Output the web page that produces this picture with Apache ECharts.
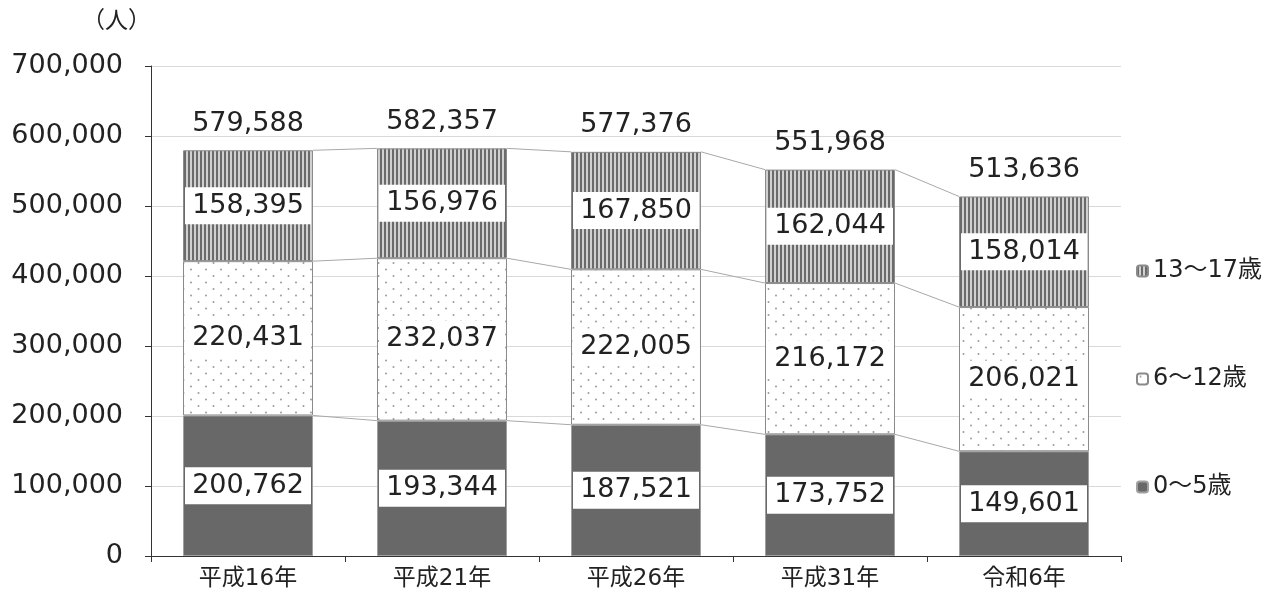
<!DOCTYPE html>
<html><head><meta charset="utf-8">
<script src="https://cdn.jsdelivr.net/npm/echarts@6/dist/echarts.min.js"></script>
<style>html,body{margin:0;padding:0;background:#fff}#c{width:1264px;height:597px}</style>
</head><body><div id="c"></div>
<script>
var categories = ['平成16年','平成21年','平成26年','平成31年','令和6年'];
var age0to5 = [200762,193344,187521,173752,149601];
var age6to12 = [220431,232037,222005,216172,206021];
var age13to17 = [158395,156976,167850,162044,158014];
var totals = [579588,582357,577376,551968,513636];
var seriesNames = ['0～5歳','6～12歳','13～17歳'];
var legendOrder = ['13～17歳','6～12歳','0～5歳'];
var unitLabel = '（人）';

function stripePattern(){
  var c=document.createElement('canvas');c.width=4;c.height=4;
  var g=c.getContext('2d');g.fillStyle='#d0d0d0';g.fillRect(0,0,4,4);
  g.fillStyle='#6a6a6a';g.fillRect(0,0,2,4);return c;
}
function dotPattern(){
  var c=document.createElement('canvas');c.width=15;c.height=13;
  var g=c.getContext('2d');g.fillStyle='#ffffff';g.fillRect(0,0,15,13);
  g.fillStyle='#9a9a9a';
  g.beginPath();g.arc(3.5,3,1,0,Math.PI*2);g.fill();
  g.beginPath();g.arc(11,9.5,1,0,Math.PI*2);g.fill();
  return c;
}
var FONT='"DejaVu Sans", "Noto Sans CJK JP", sans-serif';
var BW=0.67;
function fmt(v){return Number(v).toLocaleString('en-US');}
var chart=echarts.init(document.getElementById('c'),null,{renderer:'canvas'});
var segLabel={show:true,position:'inside',fontFamily:FONT,fontSize:27,color:'#222',
  backgroundColor:'#fff',width:126,height:37,lineHeight:37,align:'center',
  formatter:function(p){return fmt(p.value);}};
var cum=[];
for(var i=0;i<categories.length;i++){
  cum.push([i,age0to5[i],age0to5[i]+age6to12[i],age0to5[i]+age6to12[i]+age13to17[i]]);
}
chart.setOption({
  animation:false,
  grid:{left:151,right:143,top:66,bottom:41},
  legend:{orient:'vertical',left:1131,top:254,itemGap:84,itemWidth:11,itemHeight:11,
    data:legendOrder,
    textStyle:{fontFamily:FONT,fontSize:24,color:'#222'},selectedMode:false},
  graphic:[{type:'text',left:82,top:8,style:{text:unitLabel,font:'23px "Noto Sans CJK JP"',fill:'#222'}}],
  xAxis:{type:'category',data:categories,
    axisLine:{lineStyle:{color:'#333',width:1}},
    axisTick:{show:true,length:6,lineStyle:{color:'#333'}},
    axisLabel:{fontFamily:FONT,fontSize:23,color:'#222',margin:12}},
  yAxis:{type:'value',min:0,max:700000,interval:100000,
    axisLine:{show:true,lineStyle:{color:'#333'}},
    axisTick:{show:true,length:6,lineStyle:{color:'#333'}},
    splitLine:{lineStyle:{color:'#d9d9d9'}},
    axisLabel:{fontFamily:FONT,fontSize:27,color:'#222',margin:28,
      formatter:function(v){return fmt(v);}}},
  series:[
    {name:seriesNames[0],type:'bar',stack:'a',barWidth:'67%',data:age0to5,
      itemStyle:{color:'#686868',borderColor:'#a0a0a0',borderWidth:1},label:segLabel},
    {name:seriesNames[1],type:'bar',stack:'a',data:age6to12,
      itemStyle:{color:{image:dotPattern(),repeat:'repeat'},borderColor:'#8a8a8a',borderWidth:1},label:segLabel},
    {name:seriesNames[2],type:'bar',stack:'a',data:age13to17,
      itemStyle:{color:{image:stripePattern(),repeat:'repeat'},borderColor:'#8a8a8a',borderWidth:1},label:segLabel},
    {type:'custom',data:cum,z:1,silent:true,
      renderItem:function(params,api){
        var i=api.value(0);if(i>=categories.length-1)return null;
        var half=api.size([1,0])[0]*BW/2;var ch=[];
        for(var k=1;k<=3;k++){
          var p1=api.coord([i,cum[i][k]]),p2=api.coord([i+1,cum[i+1][k]]);
          ch.push({type:'line',shape:{x1:p1[0]+half,y1:p1[1],x2:p2[0]-half,y2:p2[1]},
            style:{stroke:'#a8a8a8',lineWidth:1}});
        }
        return {type:'group',children:ch};
      }},
    {type:'scatter',data:totals,symbolSize:0,silent:true,itemStyle:{opacity:1},
      label:{show:true,position:'top',distance:13,fontFamily:FONT,fontSize:27,color:'#222',opacity:1,
        formatter:function(p){return fmt(p.value);}}}
  ]
});
</script></body></html>
